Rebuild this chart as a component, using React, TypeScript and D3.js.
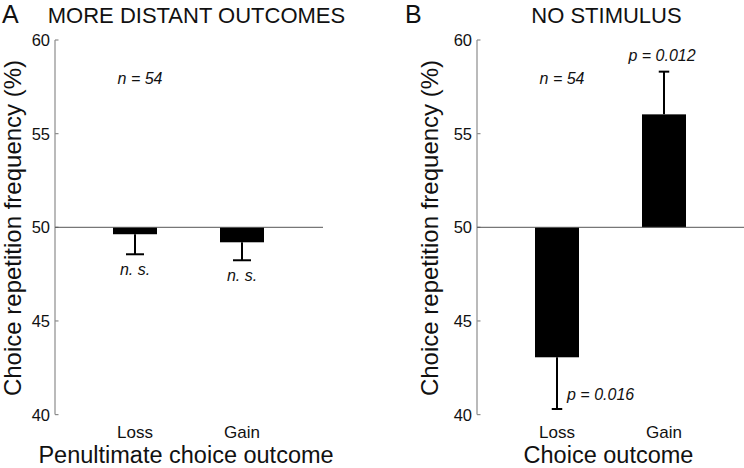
import React from "react";
import * as d3 from "d3";

const categories = ["Loss", "Gain"];
const yTicks = [40, 45, 50, 55, 60];

const distantMeans = [49.63, 49.2];
const distantSem = [1.07, 0.96];
const distantLabels = ["n. s.", "n. s."];

const noStimMeans = [43.06, 56.03];
const noStimSem = [2.76, 2.28];
const noStimLabels = ["p = 0.016", "p = 0.012"];

const FONT = "'Liberation Sans', Arial, Helvetica, sans-serif";

type PanelProps = {
  axisX: number;
  letter: string;
  letterX: number;
  title: string;
  titleX: number;
  xTitle: string;
  xTitleX: number;
  yLabelX: number;
  means: number[];
  sems: number[];
  labels: string[];
  capW: number;
  kind: "A" | "B";
};

const y = d3.scaleLinear().domain([40, 60]).range([414.6, 40]);

function Panel(p: PanelProps) {
  const x = d3
    .scalePoint<string>()
    .domain(categories)
    .range([p.axisX + 80, p.axisX + 187]);
  const barW = 44;
  const base = 50;
  return (
    <g>
      <text x={p.letterX} y={23} fontSize={25} fontFamily={FONT} fill="#111">
        {p.letter}
      </text>
      <text
        x={p.titleX}
        y={23}
        fontSize={22}
        textAnchor="middle"
        fontFamily={FONT}
        fill="#111"
      >
        {p.title}
      </text>
      <text
        transform={`translate(${p.yLabelX},228) rotate(-90)`}
        textAnchor="middle"
        fontSize={24}
        fontFamily={FONT}
        fill="#111"
      >
        Choice repetition frequency (%)
      </text>
      <line
        x1={p.axisX}
        x2={p.axisX}
        y1={y(60)}
        y2={y(40)}
        stroke="#8c8c8c"
        strokeWidth={1.2}
      />
      {yTicks.map((t) => (
        <g key={t}>
          <line
            x1={p.axisX}
            x2={p.axisX + 3.5}
            y1={y(t)}
            y2={y(t)}
            stroke="#8c8c8c"
            strokeWidth={1.2}
          />
          <text
            x={p.axisX - 5}
            y={y(t)}
            dy="0.36em"
            textAnchor="end"
            fontSize={16.5}
            fontFamily={FONT}
            fill="#111"
          >
            {t}
          </text>
        </g>
      ))}
      {categories.map((c, i) => {
        const m = p.means[i];
        const top = Math.min(y(m), y(base));
        const h = Math.abs(y(m) - y(base));
        const cx = x(c)!;
        const end = m < base ? m - p.sems[i] : m + p.sems[i];
        return (
          <g key={c}>
            <rect x={cx - barW / 2} y={top} width={barW} height={h} fill="#000" />
            <line x1={cx} x2={cx} y1={y(m)} y2={y(end)} stroke="#000" strokeWidth={2} />
            <line
              x1={cx - p.capW / 2}
              x2={cx + p.capW / 2}
              y1={y(end)}
              y2={y(end)}
              stroke="#000"
              strokeWidth={2}
            />
          </g>
        );
      })}
      <line
        x1={p.axisX}
        x2={p.axisX + 268}
        y1={y(base)}
        y2={y(base)}
        stroke="#555"
        strokeWidth={1}
      />
      <text
        x={x("Loss")! + 5}
        y={84}
        textAnchor="middle"
        fontSize={16}
        fontStyle="italic"
        fontFamily={FONT}
        fill="#111"
      >
        n = 54
      </text>
      {p.kind === "A" &&
        categories.map((c, i) => (
          <text
            key={c}
            x={x(c)!}
            y={y(p.means[i] - p.sems[i]) + 20.5}
            textAnchor="middle"
            fontSize={16}
            fontStyle="italic"
            fontFamily={FONT}
            fill="#111"
          >
            {p.labels[i]}
          </text>
        ))}
      {p.kind === "B" && (
        <>
          <text
            x={x("Loss")! + 10}
            y={y(p.means[0] - p.sems[0]) - 9}
            textAnchor="start"
            fontSize={16}
            fontStyle="italic"
            fontFamily={FONT}
            fill="#111"
          >
            {p.labels[0]}
          </text>
          <text
            x={x("Gain")! - 2}
            y={y(p.means[1] + p.sems[1]) - 11}
            textAnchor="middle"
            fontSize={16}
            fontStyle="italic"
            fontFamily={FONT}
            fill="#111"
          >
            {p.labels[1]}
          </text>
        </>
      )}
      {categories.map((c) => (
        <text
          key={c}
          x={x(c)!}
          y={437.5}
          textAnchor="middle"
          fontSize={17}
          fontFamily={FONT}
          fill="#111"
        >
          {c}
        </text>
      ))}
      <text
        x={p.xTitleX}
        y={463}
        textAnchor="middle"
        fontSize={23.5}
        fontFamily={FONT}
        fill="#111"
      >
        {p.xTitle}
      </text>
    </g>
  );
}

export default function App() {
  return (
    <svg
      width={744}
      height={468}
      style={{ position: "absolute", left: 0, top: 0, background: "#fff" }}
    >
      <rect width={744} height={468} fill="#fff" />
      <Panel
        kind="A"
        axisX={55}
        letter="A"
        letterX={2}
        title="MORE DISTANT OUTCOMES"
        titleX={196.5}
        xTitle="Penultimate choice outcome"
        xTitleX={186}
        yLabelX={20.5}
        means={distantMeans}
        sems={distantSem}
        labels={distantLabels}
        capW={18}
      />
      <Panel
        kind="B"
        axisX={477}
        letter="B"
        letterX={405}
        title="NO STIMULUS"
        titleX={606.5}
        xTitle="Choice outcome"
        xTitleX={608.5}
        yLabelX={437.5}
        means={noStimMeans}
        sems={noStimSem}
        labels={noStimLabels}
        capW={10.5}
      />
    </svg>
  );
}
